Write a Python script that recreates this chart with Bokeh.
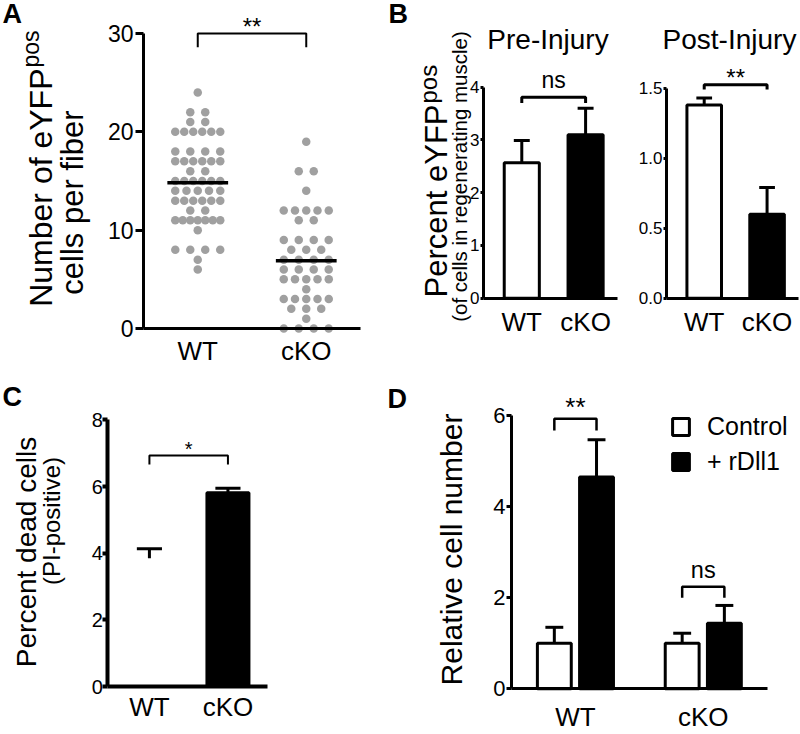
import numpy as np
from bokeh.plotting import figure
from bokeh.layouts import column, row
from bokeh.models import Range1d, Label, FixedTicker, Legend, LegendItem, PrintfTickFormatter
from bokeh.embed import file_html
from bokeh.resources import INLINE

# ---------------- data ----------------
groups = ["WT", "cKO"]

a_wt_cells = [24, 22, 22, 21, 21, 20, 20, 20, 20, 20, 20, 18, 18, 18, 18,
              17, 17, 17, 17, 17, 17, 16, 16, 15, 15, 15, 15, 15, 15,
              14, 14, 14, 14, 14, 13, 13, 13, 13, 13, 13, 12, 12,
              11, 11, 11, 11, 11, 11, 11, 10, 8, 8, 8, 8, 7, 6]
a_cko_cells = [19, 16, 16, 14, 12, 12, 12, 12, 12, 11, 11, 9, 9, 9, 9,
               8, 8, 8, 7, 7, 7, 7, 6, 6, 6, 6, 5, 5, 5, 5, 5, 4,
               3, 3, 3, 3, 3, 2, 2, 2, 1, 0, 0, 0, 0]
a_ticks = [0, 10, 20, 30]

b_pre_mean = [2.57, 3.10]
b_pre_sem = [0.42, 0.50]
b_pre_ticks = [0, 1, 2, 3, 4]
b_post_mean = [1.38, 0.60]
b_post_sem = [0.05, 0.19]
b_post_ticks = [0.0, 0.5, 1.0, 1.5]

c_mean = [3.85, 5.81]
c_sem = [0.28, 0.14]
c_ticks = [0, 2, 4, 6, 8]

d_series = ["Control", "+ rDll1"]
d_control_mean = [1.0, 1.0]
d_control_sem = [0.35, 0.22]
d_rdll1_mean = [4.65, 1.44]
d_rdll1_sem = [0.82, 0.39]
d_ticks = [0, 2, 4, 6]

# ---------------- style ----------------
S = 1.0
FONT = "Liberation Sans"
INK = "black"
GRAY = "#a0a0a0"
BASE_FIX = 0.31          # baseline correction, in em
xs = np.arange(1, len(groups) + 1, dtype=float)
ROT = np.pi / 2


def fs(px):
    return f"{S * px:.1f}px"


def make_panel(box, left, right, zero_y, ppu, xr):
    """box: canvas in reference px; left/right: x-axis extent; zero_y: pixel row of y=0;
    ppu: pixels per y unit; xr: data x at left and right axis ends."""
    bx0, by0, bx1, by1 = box
    W = round(S * (bx1 - bx0)); H = round(S * (by1 - by0))
    xppu = (right - left) / (xr[1] - xr[0])

    def to_data(rx, ry):
        return (xr[0] + (rx - left) / xppu, (zero_y - ry) / ppu)
    (x0, y1), (x1, y0) = to_data(bx0, by0), to_data(bx1, by1)
    p = figure(width=W, height=H, x_range=Range1d(x0, x1), y_range=Range1d(y0, y1),
               min_border=0, min_border_left=0, min_border_right=0,
               min_border_top=0, min_border_bottom=0,
               output_backend="svg", toolbar_location=None)
    p.xgrid.visible = False
    p.ygrid.visible = False
    p.outline_line_color = None
    p.background_fill_color = "white"
    p.border_fill_color = "white"
    return p, to_data


def style_axes(p, yticks, ytop, xr, axis_w, tick_out, tick_font, tick_standoff, x_standoff, fmt):
    y = p.yaxis[0]
    y.fixed_location = xr[0]
    y.ticker = FixedTicker(ticks=yticks)
    y.formatter = PrintfTickFormatter(format=fmt)
    y.bounds = (0, ytop)
    y.axis_line_width = S * axis_w
    y.axis_line_color = INK
    y.major_tick_line_width = S * axis_w
    y.major_tick_line_color = INK
    y.major_tick_out = round(S * tick_out)
    y.major_tick_in = 0
    y.minor_tick_line_color = None
    y.major_label_text_font = FONT
    y.major_label_text_font_size = fs(tick_font)
    y.major_label_text_color = INK
    y.major_label_standoff = round(S * tick_standoff)
    x = p.xaxis[0]
    x.fixed_location = 0
    x.bounds = tuple(xr)
    x.ticker = FixedTicker(ticks=list(xs))
    x.major_label_overrides = {float(v): g for v, g in zip(xs, groups)}
    x.major_tick_line_color = None
    x.major_tick_out = 0
    x.major_tick_in = 0
    x.minor_tick_line_color = None
    x.axis_line_width = S * axis_w
    x.axis_line_color = INK
    x.major_label_text_font = FONT
    x.major_label_text_font_size = fs(26)
    x.major_label_text_color = INK
    x.major_label_standoff = round(S * x_standoff)


def add_text(p, xy, text, size, align="center", angle=0.0, bold=False):
    k = BASE_FIX * S * size
    xo, yo = (0.0, k) if angle == 0 else (-k, 0.0)
    p.add_layout(Label(x=xy[0], y=xy[1], x_offset=xo, y_offset=yo, text=text, text_font=FONT,
                       text_font_size=fs(size), text_align=align,
                       text_baseline="alphabetic", angle=angle, text_color=INK,
                       text_font_style="bold" if bold else "normal"))


def bracket(p, x0, x1, top, bottom, lw):
    p.line([x0, x0, x1, x1], [bottom, top, top, bottom], line_color=INK, line_width=S * lw)


def error_bars(p, x, mean, sem, cap, lw):
    x = np.asarray(x, float); m = np.asarray(mean, float); s = np.asarray(sem, float)
    p.segment(x0=x, y0=m, x1=x, y1=m + s, line_color=INK, line_width=S * lw)
    p.segment(x0=x - cap / 2, y0=m + s, x1=x + cap / 2, y1=m + s, line_color=INK, line_width=S * lw)


def swarm_offsets(values, max_step, max_span):
    vals = np.asarray(values, float)
    offs = np.zeros(len(vals))
    for v in np.unique(vals):
        idx = np.where(vals == v)[0]
        n = len(idx)
        if n > 1:
            step = min(max_step, max_span / (n - 1))
            offs[idx] = (np.arange(n) - (n - 1) / 2) * step
    return offs


# ---------------- Panel A ----------------
xrA = (0.5, 2.5)
pA, toA = make_panel((0, 0, 380, 368), 143, 360, 328, 9.833, xrA)
style_axes(pA, a_ticks, 30, xrA, 3, 8, 23, 2, 7, "%d")
for xc, vals in zip(xs, [a_wt_cells, a_cko_cells]):
    off = swarm_offsets(vals, 0.138, 0.415)
    pA.scatter(xc + off, vals, size=S * 8.5, fill_color=GRAY, line_color=None)
    m = float(np.mean(vals))
    pA.segment(x0=[xc - 0.28], y0=[m], x1=[xc + 0.28], y1=[m], line_color=INK, line_width=S * 3.5)
bracket(pA, xs[0], xs[1], 30.0, 28.6, 2)
add_text(pA, ((xs[0] + xs[1]) / 2, 30.0), "**", 24)
add_text(pA, toA(2, 22), "A", 27, align="left", bold=True)
add_text(pA, toA(50, 68), "Number of eYFP", 32, align="right", angle=ROT)
add_text(pA, toA(38, 67), "pos", 23, align="left", angle=ROT)
add_text(pA, toA(82, 202), "cells per fiber", 31, angle=ROT)

# ---------------- Panel B (pre) ----------------
xrB = (0.4, 2.5)
pB1, toB1 = make_panel((380, 0, 625, 368), 483, 617, 297.7, 52.75, xrB)
style_axes(pB1, b_pre_ticks, 4, xrB, 3, 3, 17, 1, 9, "%d")
pB1.vbar(x=xs, top=b_pre_mean, bottom=0, width=0.55, fill_color=["white", "black"],
         line_color=INK, line_width=S * 3)
error_bars(pB1, xs, b_pre_mean, b_pre_sem, 0.25, 3)
bracket(pB1, xs[0], xs[1], 3.81, 3.70, 3)
add_text(pB1, ((xs[0] + xs[1]) / 2, 4.0), "ns", 23)
add_text(pB1, toB1(388, 22), "B", 27, align="left", bold=True)
add_text(pB1, toB1(547.5, 48), "Pre-Injury", 28)
add_text(pB1, toB1(446, 104), "Percent eYFP", 31, align="right", angle=ROT)
add_text(pB1, toB1(435, 103), "pos", 24, align="left", angle=ROT)
add_text(pB1, toB1(465, 176), "(of cells in regenerating muscle)", 20.5, angle=ROT)

# ---------------- Panel B (post) ----------------
pB2, toB2 = make_panel((625, 0, 800, 368), 666, 798, 297.7, 140, xrB)
style_axes(pB2, b_post_ticks, 1.5, xrB, 3, 3, 17, 1, 9, "%.1f")
pB2.vbar(x=xs, top=b_post_mean, bottom=0, width=0.55, fill_color=["white", "black"],
         line_color=INK, line_width=S * 3)
error_bars(pB2, xs, b_post_mean, b_post_sem, 0.25, 3)
bracket(pB2, xs[0], xs[1], 1.524, 1.49, 3)
add_text(pB2, ((xs[0] + xs[1]) / 2, 1.524), "**", 24)
add_text(pB2, toB2(729, 48), "Post-Injury", 28)

# ---------------- Panel C ----------------
xrC = (0.47, 2.5)
pC, toC = make_panel((0, 368, 380, 734), 107.3, 266.7, 686, 33.33, xrC)
style_axes(pC, c_ticks, 8, xrC, 4, 5, 20, 0, 5, "%d")
pC.vbar(x=xs, top=c_mean, bottom=0, width=0.535, fill_color=["white", "black"],
        line_color=["white", INK], line_width=S * 3)
error_bars(pC, xs, c_mean, c_sem, 0.32, 3)
bracket(pC, xs[0], xs[1], 6.93, 6.66, 2)
add_text(pC, ((xs[0] + xs[1]) / 2, 6.93), "*", 20)
add_text(pC, toC(2, 405), "C", 27, align="left", bold=True)
add_text(pC, toC(35, 551.5), "Percent dead cells", 28, angle=ROT)
add_text(pC, toC(58, 520.5), "(PI-positive)", 24, angle=ROT)

# ---------------- Panel D ----------------
xrD = (0.5, 2.5)
pD, toD = make_panel((380, 368, 800, 734), 511, 766.7, 688.3, 45.55, xrD)
style_axes(pD, d_ticks, 6, xrD, 3, 5, 22, 1, 13, "%d")
dx = 0.165
r_ctrl = pD.vbar(x=xs - dx, top=d_control_mean, bottom=0, width=0.265, fill_color="white",
                 line_color=INK, line_width=S * 3)
r_rd = pD.vbar(x=xs + dx, top=d_rdll1_mean, bottom=0, width=0.265, fill_color="black",
               line_color=INK, line_width=S * 3)
error_bars(pD, xs - dx, d_control_mean, d_control_sem, 0.14, 3)
error_bars(pD, xs + dx, d_rdll1_mean, d_rdll1_sem, 0.14, 3)
bracket(pD, xs[0] - dx, xs[0] + dx, 5.93, 5.67, 2.5)
add_text(pD, (xs[0], 6.0), "**", 26)
bracket(pD, xs[1] - dx, xs[1] + dx, 2.24, 2.0, 2.5)
add_text(pD, (xs[1], 2.44), "ns", 23.5)
add_text(pD, toD(387, 407), "D", 27, align="left", bold=True)
add_text(pD, toD(460, 549), "Relative cell number", 30, angle=ROT)

legend = Legend(items=[LegendItem(label=d_series[0], renderers=[r_ctrl]),
                       LegendItem(label=d_series[1], renderers=[r_rd])],
                location=(round(S * (670.5 - 380)), round(S * (734 - 476))), padding=0, margin=0,
                border_line_color=None, background_fill_alpha=0,
                glyph_width=round(S * 21), glyph_height=round(S * 21),
                label_text_font=FONT, label_text_font_size=fs(25), label_text_color=INK,
                label_standoff=round(S * 16), spacing=round(S * 6))
pD.add_layout(legend)

layout = column(row(pA, pB1, pB2), row(pC, pD))
with open("out.html", "w", encoding="utf-8") as f:
    f.write(file_html(layout, INLINE))
